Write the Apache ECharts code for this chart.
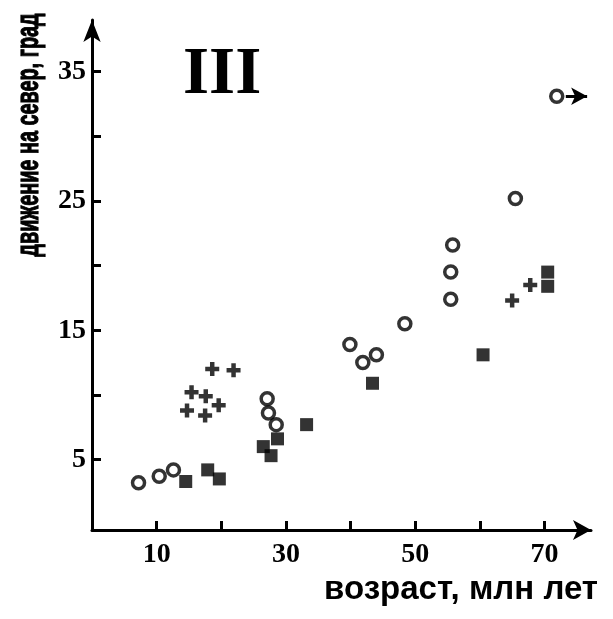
<!DOCTYPE html>
<html>
<head>
<meta charset="utf-8">
<script src="https://cdn.jsdelivr.net/npm/echarts@6/dist/echarts.min.js"></script>
<style>
  html, body { margin: 0; background: #fff; }
  #chart { width: 613px; height: 619px; }
</style>
</head>
<body>
<div id="chart"></div>
<script>
// age (Myr) and northward motion (deg) per marker type
const circleAge = [7.2, 10.4, 12.6, 27.1, 27.3, 28.5, 39.9, 41.9, 44.0, 48.4, 55.8, 55.5, 55.5, 65.5, 71.9]
const circleNorth = [3.2, 3.7, 4.2, 9.7, 8.6, 7.7, 13.9, 12.5, 13.1, 15.5, 21.6, 19.5, 17.4, 25.2, 33.1]
const squareAge = [14.5, 17.9, 19.7, 26.5, 27.7, 28.7, 33.2, 43.4, 60.5, 70.5, 70.5]
const squareNorth = [3.3, 4.2, 3.5, 6.0, 5.3, 6.6, 7.7, 10.9, 13.1, 19.5, 18.4]
const crossAge = [18.6, 21.9, 15.4, 17.6, 19.6, 14.7, 17.5, 65.0, 67.8]
const crossNorth = [12.0, 11.9, 10.2, 9.9, 9.2, 8.8, 8.4, 17.3, 18.5]
// last circle points off the scale
const offscaleFrom = [73.3, 33.1]
const offscaleTo = [76.6, 33.1]

const ageTicks = [10, 20, 30, 40, 50, 60, 70]
const ageLabels = [10, 30, 50, 70]
const northTicks = [5, 10, 15, 20, 25, 30, 35]
const northLabels = [5, 15, 25, 35]

const pairs = (xs, ys) => xs.map((x, i) => [x, ys[i]])
const crossPath = 'path://M3.4,0H6.6V3.4H10V6.6H6.6V10H3.4V6.6H0V3.4H3.4Z'

const axisLine = (size) => ({
  onZero: false,
  lineStyle: { color: '#000', width: 3 },
  symbol: ['none', 'arrow'],
  symbolSize: size
})
const tickStyle = { show: true, inside: true, length: 9, lineStyle: { color: '#000', width: 3 } }
const labelFont = { color: '#000', fontFamily: '"Liberation Serif", "Times New Roman", serif', fontWeight: 'bold', fontSize: 28 }

const chart = echarts.init(document.getElementById('chart'))
chart.setOption({
  backgroundColor: '#fff',
  animation: false,
  grid: { left: 92, right: 22, top: 20, bottom: 89 },
  xAxis: {
    type: 'value',
    min: 0,
    max: 77.2,
    axisLine: axisLine([15, 18]),
    axisTick: { ...tickStyle, customValues: ageTicks },
    axisLabel: { ...labelFont, margin: 11, customValues: ageLabels },
    splitLine: { show: false }
  },
  yAxis: {
    type: 'value',
    min: -0.45,
    max: 39,
    axisLine: axisLine([13, 22]),
    axisTick: { ...tickStyle, customValues: northTicks },
    axisLabel: { ...labelFont, margin: 6, customValues: northLabels },
    splitLine: { show: false }
  },
  graphic: [
    {
      type: 'text', left: 183, top: 42,
      style: { text: 'III', fill: '#000', font: 'bold 67px "Liberation Serif", serif' }
    },
    {
      type: 'text', x: 29.5, y: 135, rotation: Math.PI / 2, scaleX: 0.62,
      style: {
        text: 'движение на север, град', fill: '#000', stroke: '#000', lineWidth: 1.2,
        font: 'bold 32px "Liberation Sans", Arial, sans-serif',
        textAlign: 'center', textVerticalAlign: 'middle'
      }
    },
    {
      type: 'text', x: 598, y: 590,
      style: {
        text: 'возраст, млн лет', fill: '#000',
        font: 'bold 33px "Liberation Sans", Arial, sans-serif',
        textAlign: 'right', textVerticalAlign: 'middle'
      }
    }
  ],
  series: [
    {
      type: 'scatter',
      data: pairs(squareAge, squareNorth),
      symbol: 'rect',
      symbolSize: 13,
      itemStyle: { color: '#000' }
    },
    {
      type: 'scatter',
      data: pairs(crossAge, crossNorth),
      symbol: crossPath,
      symbolSize: 14,
      itemStyle: { color: '#000' }
    },
    {
      type: 'scatter',
      clip: false,
      z: 3,
      data: pairs(circleAge, circleNorth),
      symbol: 'circle',
      symbolSize: 12,
      itemStyle: { color: '#fff', borderColor: '#000', borderWidth: 3.5 },
      markLine: {
        silent: true,
        symbol: ['none', 'arrow'],
        symbolSize: [13, 16],
        label: { show: false },
        lineStyle: { color: '#000', width: 3, type: 'solid' },
        data: [[{ coord: offscaleFrom }, { coord: offscaleTo }]]
      }
    }
  ]
})
</script>
</body>
</html>
